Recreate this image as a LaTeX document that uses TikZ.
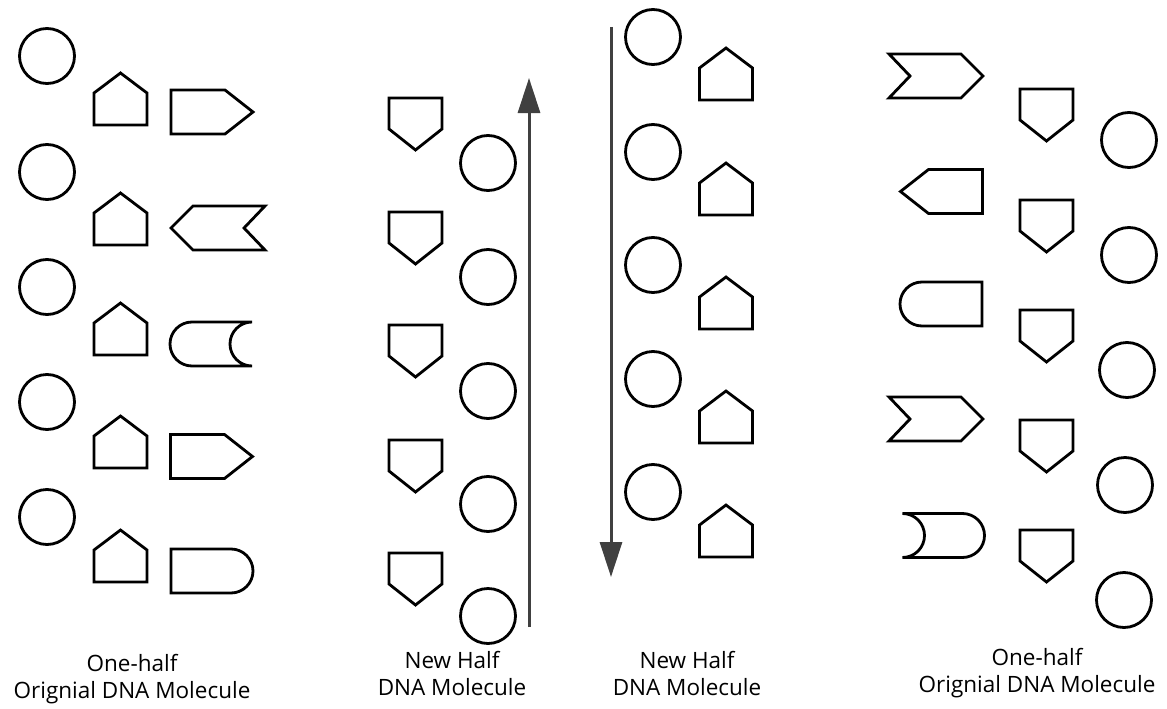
\documentclass[tikz,border=0pt]{standalone}
\usepackage{fontspec}
\setmainfont{Open Sans}
\usetikzlibrary{arrows.meta}

\begin{document}
\begin{tikzpicture}[
    x=1pt, y=-1pt,
    sugar/.style={circle, draw, line width=2.8pt, minimum size=55pt, inner sep=0pt},
    outline/.style={draw, line width=2.8pt, line join=miter},
    caption/.style={align=center, anchor=north, inner sep=0pt, font=\fontsize{22.5}{27}\selectfont},
    strand arrow/.style={-{Triangle[length=35pt, width=22pt]}, line width=3pt, draw=black!75},
    phos up/.pic={\draw[outline] (-26.5,26) -- (-26.5,-6) -- (0,-26) -- (26.5,-6) -- (26.5,26) -- cycle;},
    phos down/.pic={\draw[outline] (-26.5,-26) -- (26.5,-26) -- (26.5,5) -- (0,26) -- (-26.5,5) -- cycle;},
    point right/.pic={\draw[outline] (-41,-22) -- (13,-22) -- (41,0) -- (13,22) -- (-41,22) -- cycle;},
    notch right/.pic={\draw[outline] (-47,-22) -- (25,-22) -- (47,0) -- (25,22) -- (-47,22) -- (-26,0) -- cycle;},
    round right/.pic={\draw[outline] (-41,-22) -- (19,-22) arc(-90:90:22) -- (-41,22) -- cycle;},
    round cup/.pic={\draw[outline] (-19,-22) -- (41,-22) arc(-90:-270:22) -- (-19,22) arc(90:270:22) -- cycle;}
]
\useasboundingbox (0,0) rectangle (1167,709);

% One-half original molecule (left)
\node[sugar] (sugarA1) at (47,56) {};
\node[sugar] (sugarA2) at (47,172) {};
\node[sugar] (sugarA3) at (47,287) {};
\node[sugar] (sugarA4) at (47,402) {};
\node[sugar] (sugarA5) at (47,517) {};
\pic (phosA1) at (120.5,99) {phos up};
\pic (phosA2) at (120.5,219) {phos up};
\pic (phosA3) at (120.5,329) {phos up};
\pic (phosA4) at (120.5,442) {phos up};
\pic (phosA5) at (120.5,556) {phos up};
\pic (baseA1) at (212,112) {point right};
\pic[xscale=-1] (baseA2) at (218,228) {notch right};
\pic (baseA3) at (211,344) {round cup};
\pic (baseA4) at (211.5,456.5) {point right};
\pic (baseA5) at (212,571) {round right};

% New half (left)
\pic (phosB1) at (415.5,124) {phos down};
\pic (phosB2) at (415.5,238) {phos down};
\pic (phosB3) at (415.5,351) {phos down};
\pic (phosB4) at (415.5,466) {phos down};
\pic (phosB5) at (415.5,579) {phos down};
\node[sugar] (sugarB1) at (488,163) {};
\node[sugar] (sugarB2) at (488,277) {};
\node[sugar] (sugarB3) at (488,391) {};
\node[sugar] (sugarB4) at (488,504) {};
\node[sugar] (sugarB5) at (488,616) {};

% Strand directions
\coordinate (upfoot) at (529,627);
\coordinate (uphead) at (529,78);
\coordinate (downfoot) at (611,27);
\coordinate (downhead) at (611,577);
\draw[strand arrow] (upfoot) -- (uphead);
\draw[strand arrow] (downfoot) -- (downhead);

% New half (right)
\node[sugar] (sugarC1) at (653,37) {};
\node[sugar] (sugarC2) at (653,152) {};
\node[sugar] (sugarC3) at (653,265) {};
\node[sugar] (sugarC4) at (653,379) {};
\node[sugar] (sugarC5) at (653,492) {};
\pic (phosC1) at (726,74) {phos up};
\pic (phosC2) at (726,189) {phos up};
\pic (phosC3) at (726,303) {phos up};
\pic (phosC4) at (726,417) {phos up};
\pic (phosC5) at (726,531) {phos up};

% One-half original molecule (right)
\pic (baseD1) at (936,76) {notch right};
\pic[xscale=-1] (baseD2) at (941.5,191.5) {point right};
\pic[xscale=-1] (baseD3) at (941,304) {round right};
\pic (baseD4) at (936,419) {notch right};
\pic[xscale=-1] (baseD5) at (943.5,535.5) {round cup};
\pic (phosD1) at (1046.5,115) {phos down};
\pic (phosD2) at (1046.5,226) {phos down};
\pic (phosD3) at (1046.5,336) {phos down};
\pic (phosD4) at (1046.5,446) {phos down};
\pic (phosD5) at (1046.5,556) {phos down};
\node[sugar] (sugarD1) at (1129,140) {};
\node[sugar] (sugarD2) at (1129,255) {};
\node[sugar] (sugarD3) at (1127,370) {};
\node[sugar] (sugarD4) at (1125,485) {};
\node[sugar] (sugarD5) at (1124,600) {};

% Captions
\node[caption] (captionA) at (132,654) {One-half\\Orignial DNA Molecule};
\node[caption] (captionB) at (452,651) {New Half\\DNA Molecule};
\node[caption] (captionC) at (687,651) {New Half\\DNA Molecule};
\node[caption] (captionD) at (1037,648) {One-half\\Orignial DNA Molecule};

\end{tikzpicture}
\end{document}
